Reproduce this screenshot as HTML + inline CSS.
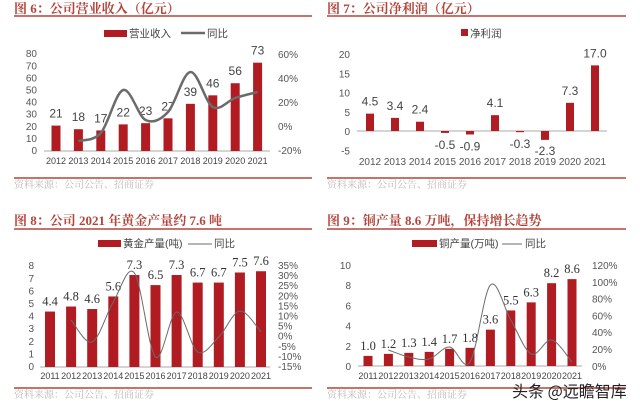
<!DOCTYPE html>
<html><head><meta charset="utf-8"><style>
html,body{margin:0;padding:0;background:#fff;}
svg{display:block;font-family:"Liberation Sans","Noto Sans CJK SC",sans-serif;}
.t{font-family:"Liberation Serif","Noto Serif CJK SC",serif;font-weight:bold;fill:#b4453c;font-size:13px;}
.src{font-family:"Noto Serif CJK SC",serif;fill:#bbb;font-size:10px;}
.ax{fill:#555;font-size:10px;}
.yr{fill:#444;font-size:9px;}
.lg{fill:#444;font-size:10.5px;}
.dl{fill:#444;font-size:12px;}
.ds{fill:#333;font-size:12.5px;font-family:"Liberation Serif",serif;}
</style></head><body>
<svg id="s" width="640" height="411" viewBox="0 0 640 411" xmlns="http://www.w3.org/2000/svg"></svg>
<script>
var S=document.getElementById('s'),h='';
var RED='#b01c22';
function T(x,y,t,c,a){h+='<text x="'+x+'" y="'+y+'" class="'+c+'"'+(a?' text-anchor="'+a+'"':'')+'>'+t+'</text>';}
function R(x,y,w,hh,f){if(hh<0){y+=hh;hh=-hh;}h+='<rect x="'+x+'" y="'+y+'" width="'+w+'" height="'+hh+'" fill="'+(f||RED)+'"/>';}
function L(x1,y1,x2,y2,c,w){h+='<line x1="'+x1+'" y1="'+y1+'" x2="'+x2+'" y2="'+y2+'" stroke="'+c+'" stroke-width="'+(w||1)+'"/>';}
function curve(p,c,w){var d='M'+p[0][0]+','+p[0][1];for(var i=0;i<p.length-1;i++){var p0=p[i-1]||p[i],p1=p[i],p2=p[i+1],p3=p[i+2]||p2;
d+=' C'+(p1[0]+(p2[0]-p0[0])/6).toFixed(1)+','+(p1[1]+(p2[1]-p0[1])/6).toFixed(1)+' '+(p2[0]-(p3[0]-p1[0])/6).toFixed(1)+','+(p2[1]-(p3[1]-p1[1])/6).toFixed(1)+' '+p2[0]+','+p2[1];}
h+='<path d="'+d+'" fill="none" stroke="'+c+'" stroke-width="'+w+'"/>';}
function frame(x1,x2,ty,tt,ly,by){T(x1,ty,tt,'t');L(x1,ly,x2,ly,'#b4453c',1.5);L(x1,by,x2,by,'#b4453c',1.5);T(x1,by+10,'资料来源：公司公告、招商证券','src');}
frame(14,312,13,'图 6：公司营业收入（亿元）',16,178);
frame(327,626,13,'图 7：公司净利润（亿元）',16,178);
frame(14,312,225,'图 8：公司 2021 年黄金产量约 7.6 吨',229,388);
frame(327,626,225,'图 9：铜产量 8.6 万吨，保持增长趋势',229,388);

// Chart 6
R(104,30,23,7);T(129,37,'营业收入','lg');L(181,33,205,33,'#6b6b6b',2.5);T(207,37,'同比','lg');
for(var i=0;i<=8;i++)T(37,154-i*12.1,i*10,'ax','end');
['60%','40%','20%','0%','-20%'].forEach(function(s,i){T(278,58+i*24,s,'ax');});
var v6=[21,18,17,22,23,27,39,46,56,73],yr6=[2012,2013,2014,2015,2016,2017,2018,2019,2020,2021];
L(44,151,270,151,'#aaa');
v6.forEach(function(v,i){var x=56+i*22.4;R(x-4.5,151,9,-v*1.21);T(x,151-v*1.21-8,v,'dl','middle');T(x,164,yr6[i],'yr','middle');});
var l6=[141,133,90,120,112,72,107,98,92];curve(l6.map(function(y,i){return[56+(i+1)*22.4,y]}),'#6b6b6b',2.5);

// Chart 7
R(461,29,7,7);T(470,37,'净利润','lg');
[20,15,10,5,0,-5].forEach(function(s,i){T(350,58+i*19.3,s,'ax','end');});
L(357,131,607,131,'#aaa');
var v7=[4.5,3.4,2.4,-0.5,-0.9,4.1,-0.3,-2.3,7.3,17.0];
v7.forEach(function(v,i){var x=370+i*25,hh=v*3.86;R(x-4,131,8,-hh);var ly=v>=0?131-hh-8:131-hh+16;if(i==7)ly=155;T(x,ly,v.toFixed(1),'dl','middle');T(x,165,yr6[i],'ax','middle');});

// Chart 8
R(98,240,23,7);T(123,247,'黄金产量(吨)','lg');L(188,244,212,244,'#6b6b6b',1);T(214,247,'同比','lg');
for(var i=0;i<=8;i++)T(34,370-i*12.6,i,'ax','end');
['35%','30%','25%','20%','15%','10%','5%','0%','-5%','-10%','-15%'].forEach(function(s,i){T(278,269+i*10.1,s,'ax');});
var v8=[4.4,4.8,4.6,5.6,7.3,6.5,7.3,6.7,6.7,7.5,7.6];
L(40,367,270,367,'#aaa');
v8.forEach(function(v,i){var x=50+i*21.1;R(x-5,367,10,-v*12.6);T(x,367-v*12.6-6,v.toFixed(1),'ds','middle');T(x,379,2011+i,'yr','middle');});
var l8=[320,342,302,273,357,312,352,337,311,332];curve(l8.map(function(y,i){return[50+(i+1)*21.1,y]}),'#6b6b6b',1);

// Chart 9
R(412,240,25,7);T(439,247,'铜产量(万吨)','lg');L(502,244,522,244,'#6b6b6b',1);T(525,247,'同比','lg');
for(var i=0;i<=5;i++)T(351,370-i*20.2,i*2,'ax','end');
['120%','100%','80%','60%','40%','20%','0%'].forEach(function(s,i){T(592,269+i*16.8,s,'ax');});
var v9=[1.0,1.2,1.3,1.4,1.7,1.8,3.6,5.5,6.3,8.2,8.6];
L(358,366,582,366,'#aaa');
v9.forEach(function(v,i){var x=368+i*20.4;R(x-4.5,366,9,-v*10.1);T(x,366-v*10.1-6,v.toFixed(1),'ds','middle');T(x,379,2011+i,'yr','middle');});
var l9=[350,357,359,347,362,285,320,354,340,362];curve(l9.map(function(y,i){return[368+(i+1)*20.4,y]}),'#6b6b6b',1);
h+='<text x="512" y="397" style="font-size:16px;fill:#222;font-family:\'Noto Sans CJK SC\',sans-serif">头条 @远瞻智库</text>';
S.innerHTML=h;
</script>
</body></html>
